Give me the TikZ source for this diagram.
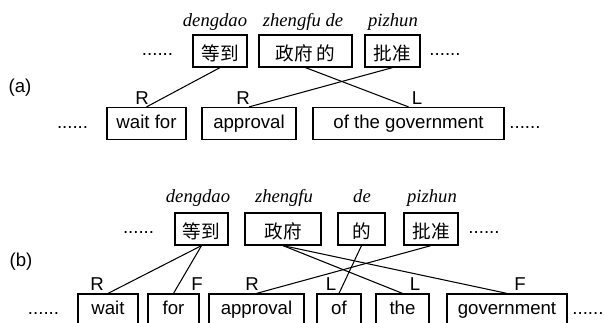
\documentclass[tikz,border=0pt]{standalone}
\usepackage{fontspec}
\setmainfont{Liberation Serif}
\setsansfont{Liberation Sans}
\newfontfamily\cjk{Noto Sans CJK SC}
\usetikzlibrary{positioning}

\tikzset{
  word/.style={draw, line width=0.7pt, inner sep=0pt, minimum height=0.64cm,
    font=\sffamily\fontsize{10.6}{12}\selectfont, text height=8pt, text depth=2.6pt},
  zhword/.style={word, font=\cjk\fontsize{10.6}{12}\selectfont, text height=10.5pt, text depth=0pt},
  dots/.style={inner sep=0pt, font=\sffamily\fontsize{10.6}{12}\selectfont, text height=8pt, text depth=2.6pt},
  pinyin/.style={inner sep=0pt, anchor=base, font=\itshape\fontsize{10.6}{12}\selectfont},
  dep/.style={inner sep=0pt, anchor=base, yshift=0.05cm, font=\sffamily\fontsize{10.6}{12}\selectfont},
  tag/.style={inner sep=0pt, font=\sffamily\fontsize{10.6}{12}\selectfont},
  link/.style={line width=0.6pt},
}

\begin{document}
\begin{tikzpicture}[x=0.02cm, y=-0.02cm]
\useasboundingbox (0,0) rectangle (604,322);
\clip (0,0) rectangle (604,322);

% (a)
\node[tag] (tag_a) at (20,88) {(a)};

\foreach \i/\x/\w/\txt in%
    {1/220/1.08/等到,
     2/305.5/1.86/政府 的,
     3/392.5/1.10/批准} {
  \node[zhword, minimum width=\w cm] (src_a\i) at (\x,51) {\txt};
}
\foreach \i/\x/\txt in {1/215/dengdao, 2/303/zhengfu de, 3/393/pizhun}
  \node[pinyin] (py_a\i) at (\x,26) {\txt};

\foreach \i/\x/\w/\txt in%
    {1/146.5/1.58/wait for,
     2/249/1.88/approval,
     3/408.5/3.82/of the government} {
  \node[word, minimum width=\w cm] (tgt_a\i) at (\x,123.5) {\txt};
}

\node[dots, left=0.38cm of src_a1] (dots_a1) {......};
\node[dots, right=0.17cm of src_a3] (dots_a2) {......};
\node[dots, left=0.36cm of tgt_a1] (dots_a3) {......};
\node[dots, right=0.09cm of tgt_a3] (dots_a4) {......};

\foreach \src/\tgt/\lab/\dx [count=\k] in%
    {src_a1/tgt_a1/R/-4.5,
     src_a3/tgt_a2/R/-6,
     src_a2/tgt_a3/L/8.5} {
  \draw[link] (\src.south) -- (\tgt.north) node[dep, xshift=\dx*0.02cm] (rel_a\k) {\lab};
}

% (b)
\node[tag] (tag_b) at (21,262) {(b)};

\foreach \i/\x/\w/\txt in%
    {1/201.5/1.06/等到,
     2/283/1.52/政府,
     3/361.5/0.94/的,
     4/431/1.08/批准} {
  \node[zhword, minimum width=\w cm] (src_b\i) at (\x,229) {\txt};
}
\foreach \i/\x/\txt in {1/198/dengdao, 2/284/zhengfu, 3/362/de, 4/432/pizhun}
  \node[pinyin] (py_b\i) at (\x,202) {\txt};

\foreach \i/\x/\w/\txt in%
    {1/108/1.20/wait,
     2/173.5/1.02/for,
     3/256.5/1.90/approval,
     4/339/0.88/of,
     5/402.5/1.06/the,
     6/507/2.40/government} {
  \node[word, minimum width=\w cm] (tgt_b\i) at (\x,310) {\txt};
}

\node[dots, left=0.40cm of src_b1] (dots_b1) {......};
\node[dots, right=0.19cm of src_b4] (dots_b2) {......};
\node[dots, left=0.36cm of tgt_b1] (dots_b3) {......};
\node[dots, right=0.09cm of tgt_b6] (dots_b4) {......};

\foreach \src/\tgt/\lab/\dx [count=\k] in%
    {src_b1/tgt_b1/R/-11,
     src_b1/tgt_b2/F/23.5,
     src_b4/tgt_b3/R/-4.5,
     src_b3/tgt_b4/L/-8,
     src_b2/tgt_b5/L/12.5,
     src_b2/tgt_b6/F/13} {
  \draw[link] (\src.south) -- (\tgt.north) node[dep, xshift=\dx*0.02cm] (rel_b\k) {\lab};
}

\end{tikzpicture}
\end{document}
